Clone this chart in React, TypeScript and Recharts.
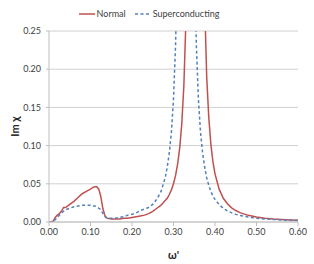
import { CartesianGrid, Legend, Line, LineChart, XAxis, YAxis } from 'recharts'

const omega = [
  0, 0.005, 0.01, 0.015, 0.02, 0.025, 0.03, 0.035, 0.04, 0.05, 0.06, 0.07, 0.08, 0.09, 0.1, 0.105, 0.11, 0.115,
  0.12, 0.125, 0.13, 0.135, 0.14, 0.15, 0.16, 0.17, 0.18, 0.19, 0.2, 0.21, 0.22, 0.23, 0.24, 0.25, 0.26, 0.27,
  0.28, 0.285, 0.29, 0.295, 0.3, 0.305, 0.31, 0.315, 0.32, 0.325, 0.33, 0.335, 0.34, 0.345, 0.35, 0.355, 0.36,
  0.365, 0.37, 0.375, 0.38, 0.385, 0.39, 0.395, 0.4, 0.41, 0.42, 0.43, 0.44, 0.45, 0.46, 0.48, 0.5, 0.52, 0.54,
  0.56, 0.58, 0.6,
]

const normal = [
  0, 0.0005, 0.001, 0.006, 0.009, 0.011, 0.014, 0.019, 0.019, 0.023, 0.027, 0.032, 0.037, 0.04, 0.043, 0.045, 0.046, 0.046,
  0.043, 0.033, 0.017, 0.008, 0.005, 0.004, 0.004, 0.004, 0.005, 0.005, 0.006, 0.007, 0.008, 0.009, 0.011, 0.014, 0.018, 0.022,
  0.028, 0.031, 0.036, 0.042, 0.05, 0.061, 0.076, 0.097, 0.129, 0.179, 0.265, 0.43, 0.83, 1.5, 2.5, 2.5, 1.8,
  0.97, 0.48, 0.29, 0.19, 0.137, 0.102, 0.079, 0.063, 0.043, 0.031, 0.024, 0.0185, 0.015, 0.0122, 0.0087, 0.0065, 0.005, 0.004,
  0.0033, 0.0027, 0.0023,
]

const superconducting = [
  0, 0, 0.001, 0.003, 0.006, 0.009, 0.012, 0.014, 0.016, 0.018, 0.02, 0.021, 0.022, 0.022, 0.022, 0.021, 0.021, 0.02,
  0.018, 0.016, 0.011, 0.007, 0.005, 0.005, 0.005, 0.006, 0.007, 0.009, 0.01, 0.012, 0.015, 0.017, 0.019, 0.023, 0.03, 0.04,
  0.058, 0.072, 0.091, 0.118, 0.161, 0.232, 0.36, 0.64, 1.45, 3.0, 4.0, 3.0, 1.45, 0.64, 0.36, 0.232, 0.161,
  0.118, 0.091, 0.072, 0.058, 0.048, 0.04, 0.034, 0.0296, 0.0227, 0.0179, 0.0145, 0.012, 0.01, 0.0086, 0.0064, 0.005, 0.004, 0.0033,
  0.0027, 0.0023, 0.002,
]

const xTicks = [0, 0.1, 0.2, 0.3, 0.4, 0.5, 0.6]
const yTicks = [0, 0.05, 0.1, 0.15, 0.2, 0.25]

const data = omega.map((w, i) => ({ w, normal: normal[i], superconducting: superconducting[i] }))

const font = 'Lato, "DejaVu Sans", sans-serif'
const tickStyle = { fontSize: 9, fill: '#404040', fontFamily: font }

function LegendBox() {
  return (
    <div style={{ display: 'flex', justifyContent: 'center', alignItems: 'center', fontFamily: font, fontSize: 9, color: '#404040' }}>
      <svg width={16} height={6} style={{ marginRight: 2 }}>
        <line x1={0} y1={3} x2={16} y2={3} stroke="#C0504D" strokeWidth={1.5} />
      </svg>
      <span style={{ marginRight: 9 }}>Normal</span>
      <svg width={16} height={6} style={{ marginRight: 2 }}>
        <line x1={0} y1={3} x2={16} y2={3} stroke="#4F81BD" strokeWidth={1.5} strokeDasharray="3 2.5" />
      </svg>
      <span>Superconducting</span>
    </div>
  )
}

export default function App() {
  return (
    <div style={{ position: 'absolute', left: 0, top: 0, width: 314, height: 264, background: '#fff' }}>
      <LineChart width={314} height={264} data={data} margin={{ top: 17, right: 16, left: 0, bottom: 0 }}>
        <Legend verticalAlign="top" height={14} wrapperStyle={{ top: 8 }} content={() => <LegendBox />} />
        <CartesianGrid vertical={false} stroke="#d0d0d0" />
        <XAxis
          dataKey="w"
          type="number"
          domain={[0, 0.6]}
          ticks={xTicks}
          tickFormatter={(v: number) => v.toFixed(2)}
          tick={tickStyle}
          height={42}
          stroke="#bfbfbf"
          tickSize={4}
          tickMargin={3}
          label={{ value: "ω'", position: 'insideBottom', offset: 5, style: { fontSize: 11, fontWeight: 700, fill: '#262626', fontFamily: font } }}
        />
        <YAxis
          type="number"
          domain={[0, 0.25]}
          allowDataOverflow
          ticks={yTicks}
          tickFormatter={(v: number) => v.toFixed(2)}
          tick={tickStyle}
          width={49}
          stroke="#bfbfbf"
          tickSize={3}
          tickMargin={5}
          label={{ value: 'Im χ', angle: -90, position: 'insideLeft', offset: 15, style: { textAnchor: 'middle', fontSize: 11, fontWeight: 700, fill: '#262626', fontFamily: font } }}
        />
        <Line type="linear" dataKey="normal" stroke="#C0504D" strokeWidth={1.5} dot={false} isAnimationActive={false} />
        <Line type="linear" dataKey="superconducting" stroke="#4F81BD" strokeWidth={1.5} strokeDasharray="3 2.5" dot={false} isAnimationActive={false} />
      </LineChart>
    </div>
  )
}
